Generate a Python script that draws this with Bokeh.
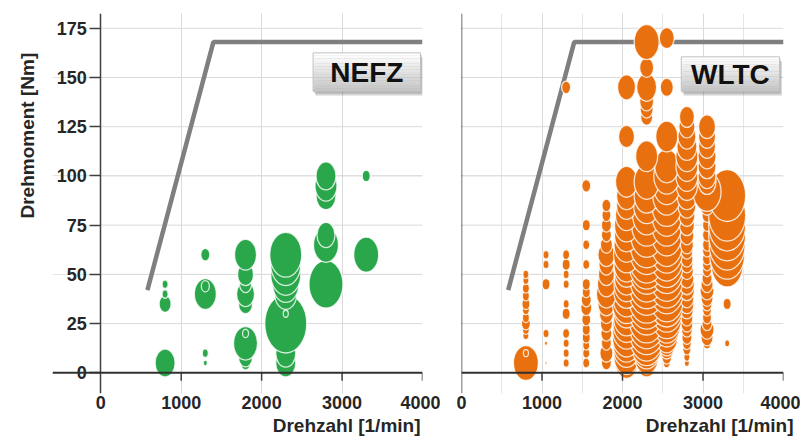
import numpy as np
from bokeh.plotting import figure
from bokeh.models import Range1d, FixedTicker, LinearAxis, Grid, Label, Title, ColumnDataSource, Span
from bokeh.layouts import row
from bokeh.embed import file_html
from bokeh.resources import INLINE

# ---------------- data ----------------
X_TICKS = [0, 1000, 2000, 3000, 4000]
Y_TICKS = [0, 25, 50, 75, 100, 125, 150, 175]

# full-load curve (Volllast)
VL_N = [580, 1400, 4000]
VL_M = [42, 168, 168]

# NEFZ operating points: speed column -> torque values and bubble size
NEFZ_800_M = [5, 35, 40, 45]
NEFZ_800_S = [20, 12, 6, 6]
NEFZ_1300_M = [5, 10, 40, 44, 60]
NEFZ_1300_S = [4, 6, 22, 8, 9]
NEFZ_1800_M = [5, 8, 15, 20, 35, 40, 45, 50, 60]
NEFZ_1800_S = [10, 14, 24, 6, 14, 18, 12, 16, 22]
NEFZ_2300_M = [5, 10, 25, 30, 40, 45, 50, 55, 60]
NEFZ_2300_S = [20, 20, 42, 5, 22, 26, 30, 30, 32]
NEFZ_2800_M = [45, 65, 70, 90, 95, 100]
NEFZ_2800_S = [34, 25, 18, 20, 22, 20]
NEFZ_3300_M = [60, 100]
NEFZ_3300_S = [25, 8]

# WLTC operating points
WLTC_800_M = [5, 10, 19, 22, 25, 28, 32, 35, 39, 43, 47, 50]
WLTC_800_S = [25, 5, 6, 7, 9, 7, 7, 8, 7, 7, 6, 6]
WLTC_1050_M = [5, 15, 20, 45, 55, 60]
WLTC_1050_S = [2, 3, 6, 8, 6, 6]
WLTC_1300_M = [5, 10, 15, 20, 30, 35, 45, 50, 55, 60, 145]
WLTC_1300_S = [6, 6, 6, 7, 8, 6, 6, 6, 8, 7, 9]
WLTC_1550_M = [5, 10, 14, 18, 22, 27, 33, 37, 41, 45, 55, 65, 75, 95]
WLTC_1550_S = [7, 7, 7, 8, 8, 9, 11, 10, 8, 8, 7, 7, 8, 9]
WLTC_1800_M = [5, 10, 15, 20, 25, 30, 35, 40, 45, 50, 55, 60, 65, 70, 75, 80, 85]
WLTC_1800_S = [10, 13, 10, 11, 12, 14, 17, 20, 18, 16, 15, 17, 12, 10, 10, 9, 9]
WLTC_2050_M = [5, 8, 12, 15, 18, 22, 25, 28, 32, 35, 38, 42, 45, 48, 52, 55, 60, 65, 70, 75, 80, 85, 90, 97, 120, 145]
WLTC_2050_S = [22, 25, 26, 27, 28, 28, 27, 26, 26, 28, 27, 26, 25, 24, 24, 25, 26, 25, 24, 24, 22, 20, 20, 22, 16, 18]
WLTC_2300_M = [5, 8, 12, 15, 18, 22, 25, 28, 32, 35, 38, 42, 45, 48, 52, 55, 58, 62, 65, 70, 75, 80, 85, 90, 97,
               110, 130, 134, 138, 145, 155, 168]
WLTC_2300_S = [20, 24, 28, 32, 34, 36, 36, 36, 36, 36, 36, 36, 35, 34, 34, 35, 35, 34, 33, 32, 30, 28, 26, 25, 25,
               22, 12, 13, 14, 20, 14, 25]
WLTC_2550_M = [5, 8, 12, 15, 18, 22, 25, 28, 32, 35, 38, 42, 45, 48, 52, 55, 58, 62, 65, 70, 75, 80, 85, 90, 95,
               100, 105, 120, 145, 170]
WLTC_2550_S = [7, 10, 14, 18, 22, 25, 28, 30, 32, 33, 34, 34, 34, 33, 33, 33, 32, 32, 31, 30, 30, 30, 30, 28, 27,
               26, 24, 22, 13, 15]
WLTC_2800_M = [5, 8, 12, 15, 18, 22, 25, 28, 32, 35, 38, 42, 45, 48, 52, 55, 58, 62, 65, 70, 75, 80, 85, 90, 95,
               100, 105, 110, 115, 120, 125, 130]
WLTC_2800_S = [5, 6, 8, 9, 10, 11, 12, 12, 13, 14, 14, 15, 15, 14, 13, 12, 12, 12, 13, 14, 15, 16, 18, 20, 21,
               22, 22, 22, 20, 18, 16, 15]
WLTC_3050_M = [15, 18, 22, 25, 28, 32, 35, 38, 42, 45, 48, 52, 55, 58, 62, 65, 70, 75, 80, 85, 92, 97, 100, 105,
               110, 115, 120, 125]
WLTC_3050_S = [8, 12, 14, 10, 9, 9, 10, 12, 14, 12, 10, 9, 9, 9, 9, 9, 9, 9, 10, 14, 28, 18, 18, 18, 18, 17, 17, 17]
WLTC_3300_M = [15, 35, 55, 60, 65, 70, 75, 80, 90]
WLTC_3300_S = [5, 8, 32, 35, 36, 37, 37, 37, 37]

NEFZ_COLUMNS = [(800, NEFZ_800_M, NEFZ_800_S), (1300, NEFZ_1300_M, NEFZ_1300_S),
                (1800, NEFZ_1800_M, NEFZ_1800_S), (2300, NEFZ_2300_M, NEFZ_2300_S),
                (2800, NEFZ_2800_M, NEFZ_2800_S), (3300, NEFZ_3300_M, NEFZ_3300_S)]
WLTC_COLUMNS = [(800, WLTC_800_M, WLTC_800_S), (1050, WLTC_1050_M, WLTC_1050_S),
                (1300, WLTC_1300_M, WLTC_1300_S), (1550, WLTC_1550_M, WLTC_1550_S),
                (1800, WLTC_1800_M, WLTC_1800_S), (2050, WLTC_2050_M, WLTC_2050_S),
                (2300, WLTC_2300_M, WLTC_2300_S), (2550, WLTC_2550_M, WLTC_2550_S),
                (2800, WLTC_2800_M, WLTC_2800_S), (3050, WLTC_3050_M, WLTC_3050_S),
                (3300, WLTC_3300_M, WLTC_3300_S)]

Y_TITLE = "Drehmoment  [Nm]"
X_TITLE = "Drehzahl [1/min]"

GREEN = "#2aa74b"
ORANGE = "#e8700f"
FONT = "Liberation Sans"
GRID_COLOR = "#dadada"
TEXT_COLOR = "#262626"
ASPECT = 1.4


def bubble_source(columns):
    n, m, w = [], [], []
    for speed, moments, sizes in columns:
        for mm, ss in zip(moments, sizes):
            n.append(speed)
            m.append(mm)
            w.append(ss)
    order = np.argsort(np.array(m), kind="stable")
    n = np.array(n)[order]
    m = np.array(m)[order]
    w = np.array(w, dtype=float)[order]
    return ColumnDataSource(dict(n=n, m=m, w=w, h=w * ASPECT))


def label_box(p, x0, x1, y0, y1, text):
    p.quad(left=x0 + 30, right=x1 + 30, bottom=y0 - 2.2, top=y1 - 2.2,
           fill_color="#555555", fill_alpha=0.25, line_color=None)
    p.quad(left=x0 + 15, right=x1 + 15, bottom=y0 - 1.1, top=y1 - 1.1,
           fill_color="#555555", fill_alpha=0.25, line_color=None)
    k = 14
    ys = np.linspace(y0, y1, k + 1)
    cols = []
    for i in range(k):
        t = i / (k - 1)
        v = int(round(0xc6 + (0xff - 0xc6) * t))
        cols.append("#%02x%02x%02x" % (v, v, v))
    p.quad(left=x0, right=x1, bottom=ys[:-1], top=ys[1:], fill_color=cols, line_color=None)
    p.quad(left=x0, right=x1, bottom=y0, top=y1, fill_color=None, line_color="#c0c0c0", line_width=1)
    p.add_layout(Label(x=(x0 + x1) / 2, y=(y0 + y1) / 2, text=text, text_align="center",
                       text_baseline="middle", text_font_size="28px", text_font_style="bold",
                       text_font=FONT, text_color="#111111"))


def make_panel(width, x_start, border_left, border_right, show_y_labels, color, columns,
               box, box_text, xtitle_offset):
    p = figure(width=width, height=443, x_range=Range1d(x_start, X_TICKS[-1]),
               y_range=Range1d(-10.5, 182.5), x_axis_location=None, y_axis_location=None,
               toolbar_location=None, output_backend="svg",
               min_border_left=border_left, min_border_right=border_right,
               min_border_top=13, min_border_bottom=50)
    p.outline_line_color = None
    p.background_fill_color = "white"
    p.border_fill_color = "white"

    # grids
    p.add_layout(Grid(dimension=0, ticker=FixedTicker(ticks=X_TICKS[1:]),
                      grid_line_color=GRID_COLOR, grid_line_width=1))
    p.segment(x0=[X_TICKS[0]] * (len(Y_TICKS) - 1), x1=[X_TICKS[-1]] * (len(Y_TICKS) - 1),
              y0=Y_TICKS[1:], y1=Y_TICKS[1:], line_color=GRID_COLOR, line_width=1)

    # full-load curve
    p.line(VL_N, VL_M, line_color="#7f7f7f", line_width=4.5)

    # bubbles
    src = bubble_source(columns)
    p.ellipse(x="n", y="m", width="w", height="h", width_units="screen", height_units="screen",
              source=src, fill_color=color, line_color="white", line_alpha=0.8, line_width=1.3)

    # zero line and x ticks hanging below it
    p.add_layout(Span(location=0, dimension="width", line_color="#303030", line_width=2))
    p.segment(x0=X_TICKS[1:], x1=X_TICKS[1:], y0=[0] * (len(X_TICKS) - 1), y1=[-4] * (len(X_TICKS) - 1),
              line_color="#404040", line_width=1.5)

    # label box
    label_box(p, box[0], box[1], box[2], box[3], box_text)

    # y axis at n = 0
    yax = LinearAxis(fixed_location=0, ticker=FixedTicker(ticks=Y_TICKS))
    yax.axis_line_color = "#404040"
    yax.axis_line_width = 1.5
    yax.major_tick_line_color = "#404040"
    yax.major_tick_line_width = 1.5
    yax.major_tick_out = 11
    yax.major_tick_in = 0
    yax.minor_tick_line_color = None
    yax.major_label_standoff = 3
    yax.major_label_text_font = FONT
    yax.major_label_text_font_size = "18px"
    yax.major_label_text_font_style = "bold"
    yax.major_label_text_color = TEXT_COLOR if show_y_labels else None
    p.add_layout(yax, "left")
    if show_y_labels:
        p.add_layout(Title(text=Y_TITLE, align="right", vertical_align="top", offset=34, standoff=26,
                           text_font=FONT, text_font_size="19px", text_font_style="bold",
                           text_color=TEXT_COLOR), "left")

    # x axis labels below the frame
    xax = LinearAxis(ticker=FixedTicker(ticks=X_TICKS))
    xax.axis_line_color = None
    xax.major_tick_line_color = None
    xax.minor_tick_line_color = None
    xax.major_tick_out = 0
    xax.major_tick_in = 0
    xax.major_label_standoff = 2
    xax.major_label_text_font = FONT
    xax.major_label_text_font_size = "18px"
    xax.major_label_text_font_style = "bold"
    xax.major_label_text_color = TEXT_COLOR
    p.add_layout(xax, "below")
    p.add_layout(Title(text=X_TITLE, align="right", offset=xtitle_offset, standoff=3,
                       text_font=FONT, text_font_size="19px", text_font_style="bold",
                       text_color=TEXT_COLOR), "below")
    return p


p1 = make_panel(440, -600, 52, 18, True, GREEN, NEFZ_COLUMNS,
                (2640, 3975, 143, 162.5), "NEFZ", 2)
p2 = make_panel(360, 0, 21, 17, False, ORANGE, WLTC_COLUMNS,
                (2730, 3950, 143, 160.5), "WLTC", -10)

layout = row(p1, p2)
open("out.html", "w").write(file_html(layout, INLINE))
